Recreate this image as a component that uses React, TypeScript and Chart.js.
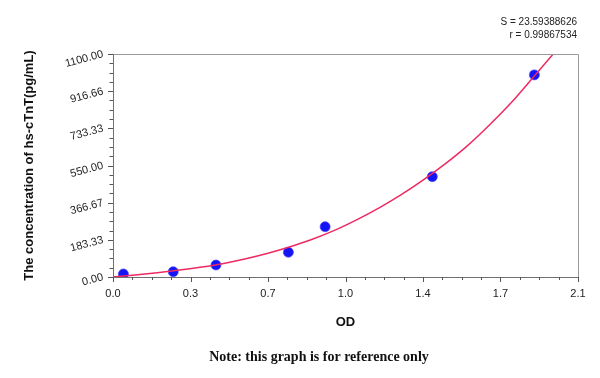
import React, { useEffect, useRef } from "react";
import { Chart, registerables } from "chart.js";

Chart.register(...registerables);

// Measured standards (OD vs concentration)
const pointOD = [0.047, 0.272, 0.465, 0.792, 0.958, 1.442, 1.903];
const pointConc = [15, 26, 59, 122, 248, 495, 997];

// Fitted curve
const curveOD = [0, 0.1, 0.2, 0.3, 0.4, 0.5, 0.6, 0.7, 0.8, 0.9, 1.0, 1.1, 1.2, 1.3, 1.4, 1.5, 1.6, 1.7, 1.8, 1.9, 2.0];
const curveConc = [0, 10, 21, 34, 49, 67, 90, 117, 149, 186, 230, 282, 340, 405, 478, 558, 647, 750, 862, 988, 1115];

// Axis ticks
const xTickValues = [0, 0.35, 0.7, 1.05, 1.4, 1.75, 2.1];
const xTickLabels = ["0.0", "0.3", "0.7", "1.0", "1.4", "1.7", "2.1"];
const yTickValues = [0, 183.33, 366.67, 550, 733.33, 916.66, 1100];
const yTickLabels = ["0.00", "183.33", "366.67", "550.00", "733.33", "916.66", "1100.00"];

const statLines = ["S = 23.59388626", "r = 0.99867534"];
const noteText = "Note: this graph is for reference only";
const xTitle = "OD";
const yTitle = "The concentration of hs-cTnT(pg/mL)";

const MINOR_DIV = 4;

const decor = {
  id: "decor",
  afterDatasetsDraw(chart: any) {
    const { ctx, chartArea } = chart;
    const { left, right, top, bottom } = chartArea;
    const xs = chart.scales.x;
    const ys = chart.scales.y;
    ctx.save();
    // box
    ctx.lineWidth = 1;
    ctx.strokeStyle = "#9a9a9a";
    ctx.beginPath();
    ctx.moveTo(left, top + 0.5);
    ctx.lineTo(right + 0.5, top + 0.5);
    ctx.lineTo(right + 0.5, bottom);
    ctx.stroke();
    ctx.strokeStyle = "#707070";
    ctx.beginPath();
    ctx.moveTo(left + 0.5, top);
    ctx.lineTo(left + 0.5, bottom + 0.5);
    ctx.lineTo(right + 0.5, bottom + 0.5);
    ctx.stroke();
    // ticks
    ctx.strokeStyle = "#555";
    const drawX = (v: number, len: number) => {
      const px = Math.round(xs.getPixelForValue(v)) + 0.5;
      ctx.beginPath();
      ctx.moveTo(px, bottom);
      ctx.lineTo(px, bottom + len);
      ctx.stroke();
    };
    const drawY = (v: number, len: number) => {
      const py = Math.round(ys.getPixelForValue(v)) + 0.5;
      ctx.beginPath();
      ctx.moveTo(left, py);
      ctx.lineTo(left - len, py);
      ctx.stroke();
    };
    xTickValues.forEach((v, i) => {
      drawX(v, 5);
      if (i < xTickValues.length - 1) {
        const step = (xTickValues[i + 1] - v) / MINOR_DIV;
        for (let k = 1; k < MINOR_DIV; k++) drawX(v + k * step, 3);
      }
    });
    yTickValues.forEach((v, i) => {
      drawY(v, 5);
      if (i < yTickValues.length - 1) {
        const step = (yTickValues[i + 1] - v) / MINOR_DIV;
        for (let k = 1; k < MINOR_DIV; k++) drawY(v + k * step, 3.5);
      }
    });
    ctx.restore();
  },
  afterDraw(chart: any) {
    const { ctx } = chart;
    ctx.save();
    ctx.fillStyle = "#222";
    ctx.font = "10px 'Liberation Sans', Arial, sans-serif";
    ctx.textAlign = "right";
    ctx.textBaseline = "middle";
    ctx.fillText(statLines[0], 577, 22);
    ctx.fillText(statLines[1], 577, 35);
    ctx.fillStyle = "#111";
    ctx.font = "bold 14px 'Liberation Serif', 'Times New Roman', serif";
    ctx.textAlign = "center";
    ctx.fillText(noteText, 319, 357);
    ctx.restore();
  },
};

export default function App() {
  const ref = useRef<HTMLCanvasElement | null>(null);
  useEffect(() => {
    if (!ref.current) return;
    const chart = new Chart(ref.current, {
      type: "scatter",
      data: {
        datasets: [
          {
            label: "fit",
            data: curveOD.map((x, i) => ({ x, y: curveConc[i] })),
            showLine: true,
            borderColor: "#ee2a62",
            borderWidth: 1.5,
            pointRadius: 0,
            tension: 0.4,
            cubicInterpolationMode: "monotone",
          } as any,
          {
            label: "standards",
            data: pointOD.map((x, i) => ({ x, y: pointConc[i] })),
            showLine: false,
            backgroundColor: "#1414f5",
            borderColor: "rgba(70,70,255,0.7)",
            borderWidth: 1,
            pointRadius: 5,
          },
        ],
      },
      options: {
        responsive: false,
        animation: false,
        events: [],
        layout: { padding: { top: 54, right: 22, bottom: 0, left: 0 } },
        plugins: { legend: { display: false }, tooltip: { enabled: false }, title: { display: false } },
        scales: {
          x: {
            type: "linear",
            min: 0,
            max: 2.1,
            grid: { display: false, drawTicks: false },
            border: { display: false },
            afterBuildTicks: (s: any) => {
              s.ticks = xTickValues.map((v) => ({ value: v }));
            },
            afterFit: (s: any) => {
              s.height = 101;
            },
            ticks: {
              padding: 10,
              color: "#222",
              font: { family: "'Liberation Sans', Arial, sans-serif", size: 11 },
              maxRotation: 0,
              callback: (_v: any, i: number) => xTickLabels[i],
            },
            title: {
              display: true,
              text: xTitle,
              color: "#111",
              font: { family: "'Liberation Sans', Arial, sans-serif", size: 13, weight: "bold" },
              padding: { top: 0, bottom: 48 },
            },
          },
          y: {
            type: "linear",
            min: 0,
            max: 1100,
            grid: { display: false, drawTicks: false },
            border: { display: false },
            afterBuildTicks: (s: any) => {
              s.ticks = yTickValues.map((v) => ({ value: v }));
            },
            afterFit: (s: any) => {
              s.width = 113;
            },
            ticks: {
              padding: 10,
              color: "#222",
              minRotation: 15,
              maxRotation: 15,
              font: { family: "'Liberation Sans', Arial, sans-serif", size: 11 },
              callback: (_v: any, i: number) => yTickLabels[i],
            },
            title: {
              display: true,
              text: yTitle,
              color: "#111",
              font: { family: "'Liberation Sans', Arial, sans-serif", size: 13, weight: "bold" },
              padding: { top: 22, bottom: 0 },
            },
          },
        },
      } as any,
      plugins: [decor],
    });
    return () => chart.destroy();
  }, []);
  return (
    <div style={{ position: "absolute", left: 0, top: 0, width: 600, height: 378, background: "#fff" }}>
      <canvas ref={ref} width={600} height={378} style={{ display: "block" }} />
    </div>
  );
}
